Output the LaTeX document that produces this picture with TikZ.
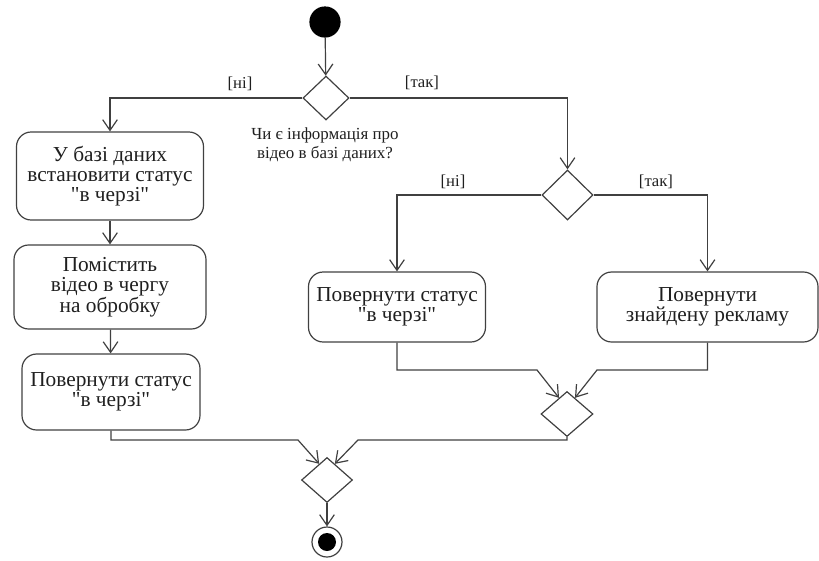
\documentclass[tikz,border=0pt]{standalone}
\usepackage{fontspec}
\newfontfamily\tst{LiberationSerif}[Extension=.ttf, UprightFont=*-Regular, BoldFont=*-Bold]
\usetikzlibrary{arrows.meta,shapes.geometric,calc}
\definecolor{ln}{gray}{0.25}
\definecolor{tx}{gray}{0.12}
\newcommand\dq{\symbol{34}}
\begin{document}
\begin{tikzpicture}[x=0.75pt,y=-0.75pt,
  line width=0.9pt,
  every node/.style={text=tx},
  act/.style={draw=ln, rounded corners=11pt, align=center, inner sep=0pt,
    font=\tst\fontsize{16}{15.2}\selectfont},
  dec/.style={draw=ln, diamond, inner sep=0pt},
  guard/.style={font=\tst\fontsize{12.5}{14}\selectfont, inner sep=1pt},
  arr/.style={draw=ln, -{Straight Barb[length=8pt,width=11pt,line width=0.9pt]}}
]
\useasboundingbox (0,0) rectangle (819,561);

\node[circle, fill=black, draw=black, minimum size=22.5pt, inner sep=0pt] (start) at (325,22) {};
\node[dec, minimum width=34.5pt, minimum height=33pt] (d1) at (326,98) {};
\node[align=center, font=\tst\fontsize{12.7}{14.5}\selectfont] (q) at (325,145) {Чи є інформація про\\відео в базі даних?};

\node[act, minimum width=140.25pt, minimum height=66pt] (b1) at (110,176) {У базі даних\\встановити статус\\\dq в черзі\dq};
\node[act, minimum width=144pt, minimum height=63pt] (b2) at (110,287) {Помістить\\відео в чергу\\на обробку};
\node[act, minimum width=133.5pt, minimum height=57pt] (b3) at (111,392) {Повернути статус\\\dq в черзі\dq};

\node[dec, minimum width=38.25pt, minimum height=37.5pt] (d2) at (567.5,195) {};
\node[act, minimum width=132.75pt, minimum height=52.5pt] (b4) at (397,307) {Повернути статус\\\dq в черзі\dq};
\node[act, minimum width=165.75pt, minimum height=52.5pt] (b5) at (707.5,307) {Повернути\\знайдену рекламу};

\node[dec, minimum width=39pt, minimum height=33.75pt] (d4) at (567,414) {};
\node[dec, minimum width=38.25pt, minimum height=33.75pt] (d3) at (327,480) {};

\node[circle, draw=ln, line width=0.9pt, minimum size=22.5pt, inner sep=0pt] (end) at (327,542) {};
\node[circle, fill=black, minimum size=13.5pt, inner sep=0pt] (endin) at (end) {};

\node[guard] (g1) at (240,84) {[ні]};
\node[guard] (g2) at (422,83) {[так]};
\node[guard] (g3) at (453,182) {[ні]};
\node[guard] (g4) at (656,182) {[так]};

\coordinate (k3) at (298,440);
\coordinate (k4) at (537,370);
\coordinate (k5) at (597,370);
\coordinate (k6) at (358,440);

\draw[arr] (start) -- (d1);
\draw[arr] (d1.west) -| (b1.north);
\draw[arr] (d1.east) -| (d2.north);
\draw[arr] (b1) -- (b2);
\draw[arr] (b2) -- (b3);
\draw[arr] (d2.west) -| (b4.north);
\draw[arr] (d2.east) -| (b5.north);
\draw[arr] (b4.south) |- (k4) -- ($(d4.north)!0.3!(d4.west)$);
\draw[arr] (b5.south) |- (k5) -- ($(d4.north)!0.3!(d4.east)$);
\draw[arr] (b3.south) |- (k3) -- ($(d3.north)!0.3!(d3.west)$);
\draw[arr] (d4.south) |- (k6) -- ($(d3.north)!0.3!(d3.east)$);
\draw[arr] (d3.south) -- (end);
\end{tikzpicture}
\end{document}
